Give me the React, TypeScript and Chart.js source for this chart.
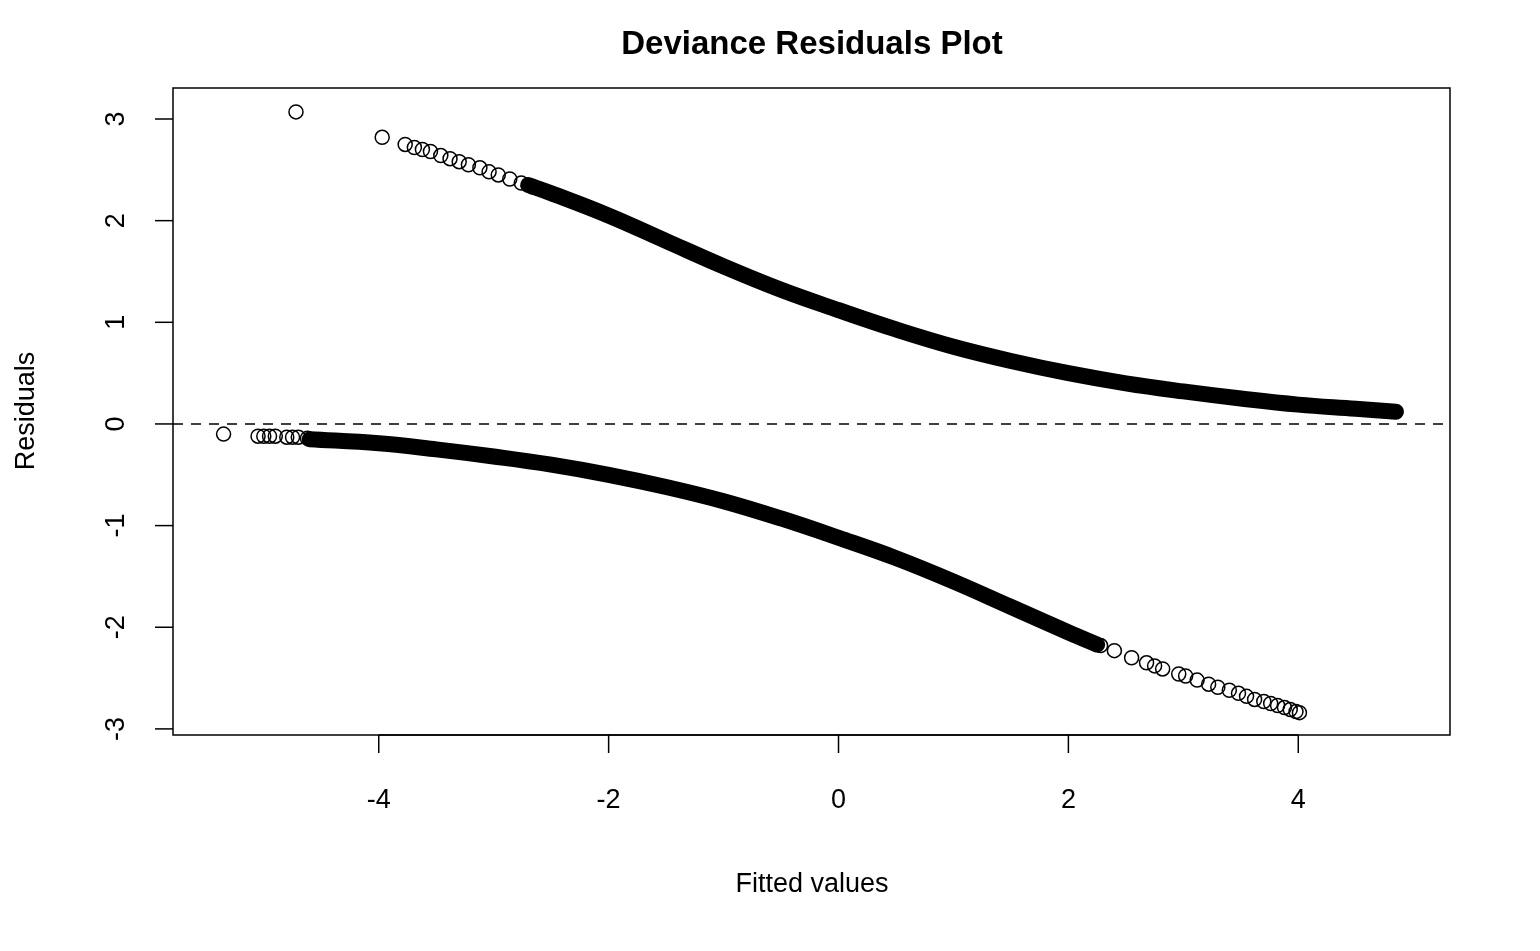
import { useEffect, useRef } from "react";
import Chart from "chart.js/auto";

// values
const upperSparseX = [-4.72, -3.97, -3.77, -3.69, -3.62, -3.55, -3.46, -3.38, -3.3, -3.22, -3.12, -3.04, -2.96, -2.86, -2.76, -2.66];
const upperSparseY = [3.07, 2.82, 2.75, 2.72, 2.7, 2.68, 2.64, 2.61, 2.58, 2.55, 2.52, 2.48, 2.45, 2.41, 2.37, 2.33];
const upperBandX = [-2.7, -2.5, -2, -1.5, -1, -0.5, 0, 0.5, 1, 1.5, 2, 2.5, 3, 3.5, 4, 4.5, 4.85];
const upperBandY = [2.35, 2.27, 2.05, 1.8, 1.55, 1.32, 1.12, 0.93, 0.76, 0.62, 0.5, 0.4, 0.32, 0.25, 0.19, 0.15, 0.12];
const lowerSparseX = [-5.35, -5.05, -5.0, -4.95, -4.9, -4.8, -4.75, -4.7, -4.62, 2.28, 2.4, 2.55, 2.68, 2.75, 2.82, 2.96, 3.02, 3.12, 3.22, 3.3, 3.4, 3.48, 3.55, 3.62, 3.7, 3.76, 3.82, 3.88, 3.93, 3.98, 4.01];
const lowerSparseY = [-0.1, -0.12, -0.12, -0.12, -0.12, -0.13, -0.13, -0.13, -0.14, -2.18, -2.23, -2.3, -2.35, -2.38, -2.41, -2.46, -2.48, -2.52, -2.56, -2.59, -2.62, -2.65, -2.68, -2.71, -2.73, -2.75, -2.77, -2.79, -2.81, -2.83, -2.84];
const lowerBandX = [-4.6, -4, -3.5, -3, -2.5, -2, -1.5, -1, -0.5, 0, 0.5, 1, 1.5, 2, 2.25];
const lowerBandY = [-0.15, -0.19, -0.25, -0.32, -0.4, -0.5, -0.62, -0.76, -0.93, -1.12, -1.32, -1.55, -1.8, -2.05, -2.17];
const xTicks = [-4, -2, 0, 2, 4];
const yTicks = [-3, -2, -1, 0, 1, 2, 3];

const pts = (xs: number[], ys: number[]) => xs.map((x, i) => ({ x, y: ys[i] }));
const FONT = '"Liberation Sans", Arial, sans-serif';

const rPlot = {
  id: "rPlot",
  afterDraw(chart: any) {
    const { ctx, chartArea: a, scales } = chart;
    const xs = scales.x, ys = scales.y;
    ctx.save();
    ctx.strokeStyle = "#000";
    ctx.fillStyle = "#000";
    ctx.lineWidth = 1.5;
    // dashed zero line
    ctx.setLineDash([10, 8]);
    ctx.beginPath();
    ctx.moveTo(a.left, ys.getPixelForValue(0));
    ctx.lineTo(a.right, ys.getPixelForValue(0));
    ctx.stroke();
    ctx.setLineDash([]);
    ctx.strokeRect(a.left, a.top, a.right - a.left, a.bottom - a.top);
    ctx.font = `27px ${FONT}`;
    ctx.textAlign = "center";
    ctx.textBaseline = "middle";
    for (const t of xTicks) {
      const px = xs.getPixelForValue(t);
      ctx.beginPath();
      ctx.moveTo(px, a.bottom);
      ctx.lineTo(px, a.bottom + 18);
      ctx.stroke();
      ctx.fillText(String(t).replace("-", "-"), px, 801);
    }
    ctx.beginPath();
    ctx.moveTo(xs.getPixelForValue(-4), a.bottom);
    ctx.lineTo(xs.getPixelForValue(4), a.bottom);
    ctx.stroke();
    for (const t of yTicks) {
      const py = ys.getPixelForValue(t);
      ctx.beginPath();
      ctx.moveTo(a.left, py);
      ctx.lineTo(a.left - 18, py);
      ctx.stroke();
      ctx.save();
      ctx.translate(117, py);
      ctx.rotate(-Math.PI / 2);
      ctx.fillText(String(t), 0, 0);
      ctx.restore();
    }
    ctx.fillText("Fitted values", 812, 885);
    ctx.save();
    ctx.translate(27, 411);
    ctx.rotate(-Math.PI / 2);
    ctx.fillText("Residuals", 0, 0);
    ctx.restore();
    ctx.font = `bold 33px ${FONT}`;
    ctx.fillText("Deviance Residuals Plot", 812, 45);
    ctx.restore();
  },
};

export default function App() {
  const ref = useRef<HTMLCanvasElement | null>(null);
  useEffect(() => {
    if (!ref.current) return;
    const circle = {
      type: "scatter" as const,
      pointRadius: 7,
      pointBorderWidth: 1.5,
      pointBorderColor: "#000",
      pointBackgroundColor: "rgba(0,0,0,0)",
    };
    const band = {
      type: "line" as const,
      showLine: true,
      borderColor: "#000",
      borderWidth: 16,
      pointRadius: 0,
      tension: 0.4,
      borderCapStyle: "round" as const,
    };
    const chart = new Chart(ref.current, {
      type: "scatter",
      data: {
        datasets: [
          { ...band, data: pts(upperBandX, upperBandY) },
          { ...band, data: pts(lowerBandX, lowerBandY) },
          { ...circle, data: pts(upperSparseX, upperSparseY) },
          { ...circle, data: pts(lowerSparseX, lowerSparseY) },
        ],
      },
      options: {
        animation: false,
        responsive: false,
        layout: { padding: { top: 88, right: 90, left: 0, bottom: 0 } },
        plugins: { legend: { display: false }, tooltip: { enabled: false } },
        scales: {
          x: {
            type: "linear",
            min: -5.79,
            max: 5.32,
            ticks: { display: false },
            grid: { display: false },
            border: { display: false },
            afterFit: (s: any) => { s.height = 216; },
          },
          y: {
            type: "linear",
            min: -3.06,
            max: 3.305,
            ticks: { display: false },
            grid: { display: false },
            border: { display: false },
            afterFit: (s: any) => { s.width = 173; },
          },
        },
      },
      plugins: [rPlot],
    });
    return () => chart.destroy();
  }, []);
  return (
    <div style={{ position: "fixed", left: 0, top: 0, width: 1540, height: 951, background: "#fff" }}>
      <canvas ref={ref} width={1540} height={951} style={{ width: 1540, height: 951 }} />
    </div>
  );
}
